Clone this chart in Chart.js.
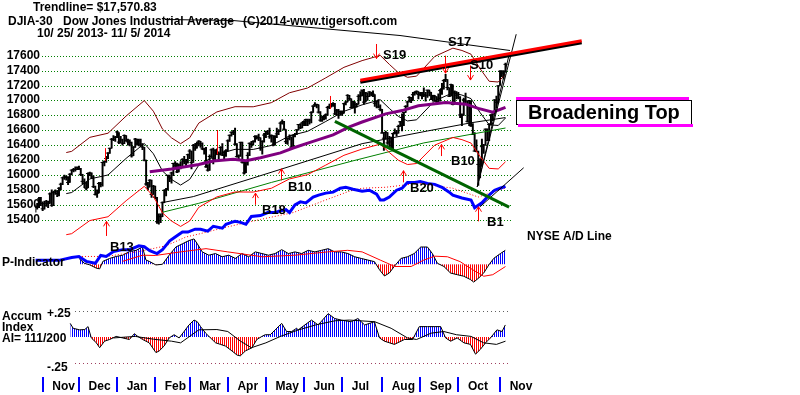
<!DOCTYPE html>
<html>
<head>
<meta charset="utf-8">
<script src="https://cdn.jsdelivr.net/npm/chart.js@4.4.0/dist/chart.umd.min.js"></script>
<style>
  html, body { margin: 0; padding: 0; background: #fff; }
  #djia { display: block; }
</style>
</head>
<body>
<canvas id="djia" width="800" height="395" style="width:800px;height:395px"></canvas>
<script>
const priceTicks = [17600, 17400, 17200, 17000, 16800, 16600, 16400, 16200, 16000, 15800, 15600, 15400];
const monthNames = ["Nov", "Dec", "Jan", "Feb", "Mar", "Apr", "May", "Jun", "Jul", "Aug", "Sep", "Oct", "Nov"];
const monthStarts = [5, 25, 46, 67, 86, 107, 128, 149, 170, 192, 213, 234, 257];

// daily DJIA bars, 10/25/2013 .. 11/5/2014 (trading day index = position)
const closes = [
  15570, 15569, 15680, 15618, 15546, 15615, 15639, 15619, 15746, 15594,
  15762, 15783, 15751, 15822, 15876, 15962, 15976, 15968, 15900, 16010,
  16065, 16073, 16073, 16098, 16086, 16008, 15915, 15889, 15822, 16020,
  16025, 15973, 15844, 15740, 15755, 15885, 15875, 16168, 16179, 16221,
  16294, 16358, 16479, 16478, 16505, 16577, 16441, 16470, 16425, 16530,
  16462, 16444, 16437, 16257, 16374, 16481, 16418, 16459, 16414, 16373,
  16198, 15879, 15838, 15929, 15739, 15849, 15699, 15373, 15445, 15440,
  15628, 15794, 15801, 15994, 15964, 16027, 16154, 16130, 16041, 16133,
  16103, 16207, 16179, 16198, 16272, 16321, 16168, 16395, 16361, 16422,
  16453, 16418, 16351, 16340, 16109, 16065, 16248, 16337, 16223, 16331,
  16303, 16277, 16368, 16268, 16264, 16324, 16458, 16532, 16573, 16572,
  16413, 16246, 16256, 16437, 16171, 16027, 16174, 16263, 16425, 16409,
  16449, 16514, 16502, 16501, 16361, 16448, 16535, 16581, 16559, 16513,
  16531, 16402, 16518, 16551, 16583, 16695, 16715, 16614, 16447, 16491,
  16511, 16374, 16533, 16543, 16606, 16676, 16633, 16698, 16717, 16743,
  16722, 16738, 16836, 16924, 16943, 16945, 16843, 16735, 16776, 16781,
  16808, 16906, 16921, 16948, 16938, 16819, 16868, 16846, 16851, 16827,
  16956, 16976, 17068, 17024, 16906, 16985, 16915, 16944, 17055, 17061,
  17138, 16977, 17100, 17052, 17114, 17087, 17084, 16961, 16982, 16913,
  16881, 16563, 16493, 16569, 16430, 16443, 16369, 16554, 16570, 16561,
  16651, 16713, 16663, 16839, 16920, 16979, 17040, 17001, 17077, 17107,
  17122, 17080, 17098, 17068, 17079, 17069, 17138, 17111, 17014, 17068,
  17049, 16988, 17031, 17132, 17157, 17266, 17280, 17173, 17056, 17211,
  16946, 17113, 17071, 17043, 16805, 16801, 17009, 16992, 16720, 16995,
  16659, 16544, 16321, 16316, 16142, 16117, 16380, 16400, 16614, 16462,
  16677, 16805, 16818, 17006, 16975, 17195, 17391, 17366, 17384, 17484
];
const highs = [
  15600, 15620, 15700, 15700, 15640, 15650, 15660, 15650, 15760, 15800,
  15780, 15800, 15790, 15830, 15890, 15970, 16000, 15990, 15980, 16020,
  16070, 16090, 16110, 16110, 16120, 16090, 16010, 15950, 15900, 16030,
  16040, 16030, 15990, 15850, 15800, 15900, 15900, 16170, 16190, 16250,
  16300, 16360, 16490, 16530, 16520, 16590, 16570, 16520, 16480, 16540,
  16530, 16480, 16470, 16440, 16380, 16490, 16480, 16480, 16480, 16420,
  16370, 16200, 15900, 15940, 15930, 15860, 15850, 15700, 15480, 15480,
  15640, 15800, 15820, 16000, 16000, 16040, 16160, 16180, 16160, 16150,
  16180, 16220, 16250, 16210, 16280, 16340, 16320, 16410, 16420, 16440,
  16460, 16450, 16430, 16360, 16370, 16140, 16270, 16350, 16360, 16340,
  16350, 16310, 16380, 16420, 16320, 16340, 16470, 16540, 16580, 16600,
  16630, 16420, 16270, 16440, 16440, 16170, 16190, 16300, 16430, 16450,
  16460, 16530, 16530, 16550, 16500, 16460, 16560, 16590, 16600, 16630,
  16540, 16530, 16530, 16630, 16610, 16710, 16740, 16720, 16610, 16500,
  16540, 16510, 16540, 16560, 16610, 16680, 16690, 16710, 16730, 16750,
  16750, 16750, 16850, 16930, 16970, 16950, 16940, 16850, 16790, 16800,
  16820, 16920, 16950, 16960, 16970, 16960, 16880, 16880, 16860, 16860,
  16960, 16990, 17080, 17070, 17020, 16990, 16980, 16960, 17080, 17120,
  17140, 17150, 17110, 17100, 17120, 17110, 17130, 17080, 16990, 17010,
  16940, 16880, 16570, 16590, 16570, 16520, 16510, 16560, 16620, 16600,
  16670, 16720, 16820, 16840, 16930, 16990, 17050, 17040, 17110, 17120,
  17130, 17120, 17110, 17110, 17170, 17110, 17140, 17140, 17110, 17070,
  17070, 17050, 17090, 17150, 17230, 17280, 17350, 17280, 17170, 17220,
  17210, 17130, 17120, 17110, 17050, 16820, 17030, 17100, 16990, 17000,
  16990, 16690, 16570, 16470, 16320, 16220, 16480, 16410, 16620, 16620,
  16690, 16810, 16820, 17010, 17060, 17200, 17400, 17400, 17400, 17500
];
const lows = [
  15500, 15540, 15560, 15590, 15520, 15540, 15580, 15560, 15620, 15580,
  15590, 15740, 15710, 15720, 15800, 15870, 15940, 15930, 15870, 15900,
  16000, 16040, 16050, 16070, 16070, 15990, 15880, 15830, 15800, 15830,
  15990, 15950, 15830, 15730, 15700, 15760, 15840, 15850, 16120, 16170,
  16220, 16290, 16360, 16460, 16450, 16500, 16420, 16430, 16400, 16420,
  16450, 16400, 16390, 16240, 16260, 16370, 16400, 16390, 16380, 16340,
  16190, 15860, 15800, 15840, 15700, 15740, 15680, 15350, 15340, 15360,
  15440, 15630, 15720, 15800, 15910, 15890, 15990, 16090, 16030, 16040,
  16080, 16100, 16150, 16110, 16160, 16220, 16080, 16170, 16330, 16360,
  16390, 16370, 16340, 16280, 16100, 16050, 16060, 16240, 16150, 16200,
  16280, 16200, 16270, 16260, 16220, 16250, 16320, 16450, 16520, 16540,
  16400, 16240, 16200, 16250, 16160, 16010, 16030, 16130, 16260, 16370,
  16400, 16440, 16480, 16460, 16330, 16280, 16440, 16500, 16540, 16490,
  16440, 16390, 16400, 16500, 16540, 16580, 16680, 16600, 16420, 16410,
  16470, 16360, 16380, 16510, 16540, 16600, 16620, 16630, 16660, 16660,
  16660, 16680, 16700, 16840, 16920, 16900, 16830, 16720, 16720, 16740,
  16750, 16800, 16890, 16910, 16920, 16810, 16800, 16760, 16800, 16800,
  16830, 16940, 16980, 17000, 16900, 16900, 16830, 16910, 16950, 17000,
  17060, 16950, 16980, 17000, 17050, 17060, 17050, 16920, 16900, 16900,
  16860, 16560, 16330, 16480, 16410, 16370, 16340, 16340, 16550, 16520,
  16560, 16650, 16590, 16660, 16840, 16910, 16980, 16970, 17000, 17070,
  17090, 17020, 17060, 17020, 17050, 16990, 17040, 17060, 17010, 16990,
  16990, 16950, 16980, 16990, 17080, 17150, 17250, 17140, 17050, 17060,
  16940, 16950, 17020, 17020, 16770, 16660, 16800, 16950, 16710, 16660,
  16650, 16540, 16320, 16310, 15860, 15960, 16120, 16290, 16400, 16460,
  16460, 16670, 16730, 16820, 16900, 16970, 17200, 17320, 17290, 17380
];

// [day, value] pairs
const ma21 = [[17,15750],[20,15765],[30,15947],[40,16000],[50,16223],[60,16423],[65,16285],[70,16054],[75,15940],[80,15865],[85,15941],[90,16131],[100,16276],[110,16344],[120,16343],[130,16396],[140,16525],[150,16586],[160,16718],[170,16854],[180,16941],[190,17009],[195,16893],[200,16785],[205,16725],[210,16740],[220,16995],[230,17102],[235,17072],[240,17024],[245,16837],[250,16673],[255,16664],[259,16764]];
const upperBand = [[17,16301],[20,16317],[30,16505],[40,16560],[50,16791],[60,16998],[65,16855],[70,16616],[75,16498],[80,16420],[85,16499],[90,16696],[100,16846],[110,16916],[120,16915],[130,16970],[140,17103],[150,17167],[160,17303],[170,17444],[180,17534],[190,17604],[195,17484],[200,17372],[205,17310],[210,17326],[220,17590],[230,17701],[235,17670],[240,17620],[245,17426],[250,17257],[255,17247],[259,17351]];
const lowerBand = [[17,15199],[20,15213],[30,15389],[40,15440],[50,15655],[60,15848],[65,15715],[70,15492],[75,15382],[80,15310],[85,15383],[90,15566],[100,15706],[110,15772],[120,15771],[130,15822],[140,15947],[150,16005],[160,16133],[170,16264],[180,16348],[190,16414],[195,16302],[200,16198],[205,16140],[210,16154],[220,16400],[230,16503],[235,16474],[240,16428],[245,16248],[250,16089],[255,16081],[259,16177]];
const ma65 = [[63,16044],[75,16080],[90,16140],[98,16188],[109,16210],[116,16190],[124,16231],[135,16297],[142,16362],[153,16450],[164,16537],[173,16646],[180,16711],[193,16820],[202,16864],[211,16929],[226,16973],[237,16950],[244,16894],[252,16842],[259,16907]];
const ma200 = [[70,15630],[87,15710],[120,15960],[150,16190],[180,16420],[216,16590],[240,16700],[259,16770]];
const greenLine = [[70,15500],[90,15620],[130,15900],[175,16190],[214,16430],[259,16630]];
const resistance = [[179,17270],[301,17800]];
const support = [[165,16720],[261,15570]];
const fanSteep = [[243.4,15839],[264.9,17888]];
const fanLow = [[243.4,15839],[260.7,17583]];

const adLine = [[0,0],[6,0],[13,0],[20,300],[24,400],[28,-100],[33,-300],[36,500],[39,400],[43,900],[48,1100],[52,1100],[57,1500],[60,1400],[63,1000],[67,700],[70,1100],[74,2000],[77,2400],[81,2900],[84,2900],[88,3200],[91,3200],[95,3000],[98,3500],[103,3300],[105,3700],[108,3900],[110,4000],[113,3900],[116,3700],[119,4500],[124,4600],[128,4900],[132,4900],[135,5100],[138,5200],[140,4900],[143,5700],[146,6000],[149,5900],[153,6500],[156,6700],[160,6900],[164,7000],[168,7400],[171,7500],[175,7300],[180,7100],[184,7200],[188,6800],[190,6200],[192,6200],[195,6500],[199,7200],[202,7400],[205,8000],[209,8000],[212,8100],[216,7900],[220,7800],[224,7500],[228,7000],[230,6700],[235,6400],[240,6200],[242,5400],[246,5900],[250,6700],[253,7200],[256,7400],[259,7600]];
const adAvg = [[24,400],[39,400],[57,900],[72,1500],[83,2400],[90,2700],[105,3400],[124,4200],[142,4900],[160,6200],[173,7100],[180,7400],[193,7500],[211,7900],[230,7400],[244,6500],[255,7200],[259,7400]];
const adTrend = [[245,5500],[269,9500]];

const pInd = [[24,120],[27,20],[30,-13],[33.6,-80],[35.4,-94],[37.2,60],[40.9,120],[44.5,160],[48.1,186],[51.8,260],[55.5,286],[59,354],[60.9,86],[62.7,60],[66.4,-14],[70,0],[73.7,186],[77.4,354],[81,420],[84.6,486],[87.4,520],[89.2,420],[91.9,254],[95.6,186],[99.2,220],[102.9,154],[106.5,186],[110.2,120],[113.8,220],[117.5,154],[121.1,254],[124.8,220],[128.4,186],[132.1,220],[135.7,300],[139.4,220],[143,254],[146.7,220],[150.3,286],[154,254],[157.6,286],[161.3,320],[164.9,254],[168.5,254],[172.2,220],[175.9,154],[179.5,120],[183.2,86],[186.8,54],[189.6,-114],[192.3,-240],[195,-180],[197.8,-40],[201.4,120],[205,154],[208.7,220],[212.3,354],[216,354],[218.7,220],[221.5,20],[225.1,-46],[228.7,-180],[232.4,-214],[236,-246],[239.7,-314],[241.5,-366],[244.3,-280],[247,-180],[249.8,-14],[252.5,120],[256.2,220],[258.9,286]];
const pAvg = [[48,60],[59,186],[66,180],[80,254],[94,320],[106,254],[125,154],[143,186],[161,254],[172,286],[180,254],[190,86],[198,-46],[207,-46],[214,86],[220,166],[227,154],[234,54],[241,-114],[247,-246],[252,-214],[259,-46]];

const accum = [[19.2,0.131],[20.8,0.084],[24.4,0.069],[27.2,0.072],[29,0.1],[30.8,-0.009],[33.6,-0.056],[35.4,-0.103],[38.1,-0.04],[40.9,-0.024],[44.5,0.006],[48.1,-0.009],[51.8,-0.024],[54.5,0.032],[56.4,0.006],[59.1,-0.024],[62.7,-0.056],[66.4,-0.15],[68.2,-0.134],[70.9,-0.087],[73.7,-0.009],[76.4,0.022],[79.2,-0.009],[81.9,0.053],[84.6,0.116],[87.4,0.163],[89.2,0.147],[91,0.1],[93.8,0.037],[96.5,-0.009],[99.3,-0.056],[102,-0.071],[104.7,-0.087],[108.3,-0.134],[111.1,-0.174],[112.9,-0.181],[115.7,-0.134],[119.3,-0.103],[122,-0.024],[124.8,0.006],[126.6,0.022],[129.4,0.022],[132.1,0.069],[135.7,0.131],[138.4,0.053],[141.2,0.053],[143.9,0.084],[144.8,0.069],[152.1,0.163],[155.8,0.116],[161.3,0.225],[164.9,0.178],[168.5,0.163],[174,0.147],[177.7,0.178],[181.4,0.116],[186.8,0.147],[189.6,-0.009],[192.3,-0.04],[197.8,-0.071],[203.3,-0.024],[207.8,-0.024],[211.5,0.1],[216,0.1],[219.7,0.1],[223.3,0.1],[226,-0.009],[228.8,-0.04],[232.4,-0.009],[236.1,-0.056],[239.7,-0.071],[242.5,-0.165],[245.2,-0.118],[248,-0.056],[250.7,-0.009],[254.3,0.069],[257.1,0.053],[258.9,0.116]];
const accumAvg = [[43,-0.009],[55,0.006],[65,-0.021],[75,-0.04],[80,-0.056],[90,0.069],[100,0.072],[106,0.053],[113,-0.04],[119,-0.103],[127,-0.056],[135,0.006],[145,0.069],[155,0.119],[165,0.156],[173,0.163],[187,0.147],[196,0.084],[205,-0.009],[210,-0.024],[218,0.037],[225,0.053],[232,0.022],[240,0.006],[247,-0.056],[254,-0.071],[259,-0.04]];

// signals: name, day, arrow tip price, arrow tail price
const buySignals = [["B13",38.7,15378,15182],["B18",121,15757,15600],["B10",135.5,16084,15927],["B20",202.7,16058,15901],["B10",223.7,16410,16254],["B1",244,15574,15378]];
const sellSignals = [["S19",187.6,17561,17757],["S17",225.4,17365,17600],["S10",239.7,17273,17470]];
const redBars = [[38.5,16190,16360],[99.8,16276,16603],[162.4,16885,17060]];

const pts = arr => arr.map(([x, y]) => ({x, y}));
const canvas = document.getElementById("djia");
const ctx = canvas.getContext("2d");

function stripes(color) {
    let c = document.createElement("canvas");
    c.width = 2;
    c.height = 1;
    let g = c.getContext("2d");
    g.fillStyle = color;
    g.fillRect(0, 0, 1, 1);
    return ctx.createPattern(c, "repeat");
}
const bluePat = stripes("#0000ff");
const redPat = stripes("#ff0000");

const FONT = '"Liberation Sans", Arial, sans-serif';

const backdrop = {
    id: "backdrop",
    beforeDatasetsDraw(chart) {
        const c = chart.ctx;
        const yp = chart.scales.yPrice;
        const ai = chart.scales.yAI;
        c.save();
        c.lineWidth = 1;
        c.setLineDash([1, 2]);
        c.strokeStyle = "#008000";
        priceTicks.forEach(v => {
            let py = Math.round(yp.getPixelForValue(v)) + 0.5;
            c.beginPath();
            c.moveTo(42, py);
            c.lineTo(512, py);
            c.stroke();
        });
        c.setLineDash([1, 3]);
        [[0.25, "#606060"], [-0.25, "#a04060"]].forEach(([v, col]) => {
            let py = Math.round(ai.getPixelForValue(v)) + 0.5;
            c.strokeStyle = col;
            c.beginPath();
            c.moveTo(75, py);
            c.lineTo(510, py);
            c.stroke();
        });
        c.restore();
    },
    beforeDatasetDraw(chart, args) {
        if (chart.data.datasets[args.index].label === "resistance") {
            chart.ctx.save();
            chart.ctx.shadowColor = "#000";
            chart.ctx.shadowOffsetY = 2;
            chart.ctx.shadowBlur = 0;
        }
    },
    afterDatasetDraw(chart, args) {
        if (chart.data.datasets[args.index].label === "resistance") {
            chart.ctx.restore();
        }
    }
};

function text(c, s, x, y, size, align) {
    c.font = "bold " + size + "px " + FONT;
    c.textAlign = align || "left";
    c.fillText(s, x, y);
}

const notes = {
    id: "notes",
    afterDraw(chart) {
        const c = chart.ctx;
        const xs = chart.scales.x;
        const yp = chart.scales.yPrice;
        c.save();
        c.fillStyle = "#000";
        c.textBaseline = "middle";

        // header
        text(c, "Trendline= $17,570.83", 33, 8, 12);
        text(c, "DJIA-30", 8, 21.5, 12);
        text(c, "Dow Jones Industrial Average", 63, 21.5, 12);
        text(c, "(C)2014-www.tigersoft.com", 243, 21.5, 12);
        text(c, "10/ 25/ 2013- 11/ 5/ 2014", 37, 34, 12);

        c.strokeStyle = "#000";
        c.lineWidth = 1;
        c.beginPath();
        c.moveTo(165, 19.5);
        c.lineTo(233, 20.5);
        c.lineTo(400, 35.5);
        c.lineTo(510, 50.5);
        c.stroke();

        // price labels
        priceTicks.forEach(v => text(c, String(v), 40, Math.round(yp.getPixelForValue(v)), 12, "right"));

        // months
        c.fillStyle = "#0000ff";
        monthStarts.forEach(d => {
            let px = Math.round(xs.getPixelForValue(d - 1.5));
            c.fillRect(px, 377, 2, 15);
        });
        c.fillStyle = "#000";
        monthStarts.forEach((d, k) => {
            let px = xs.getPixelForValue(d - 1.5) + 10.5;
            text(c, monthNames[k], px, 387, 12);
        });

        // signal arrows
        c.strokeStyle = "#ff0000";
        redBars.forEach(([d, lo, hi]) => {
            let px = Math.round(xs.getPixelForValue(d)) + 0.5;
            c.beginPath();
            c.moveTo(px, yp.getPixelForValue(lo));
            c.lineTo(px, yp.getPixelForValue(hi));
            c.stroke();
        });
        const arrow = (d, tip, tail) => {
            let px = Math.round(xs.getPixelForValue(d)) + 0.5;
            let ty = yp.getPixelForValue(tip);
            let by = yp.getPixelForValue(tail);
            let dir = by > ty ? 1 : -1;
            c.beginPath();
            c.moveTo(px, by);
            c.lineTo(px, ty);
            c.moveTo(px - 3, ty + dir * 5);
            c.lineTo(px, ty);
            c.lineTo(px + 3, ty + dir * 5);
            c.stroke();
        };
        buySignals.forEach(s => arrow(s[1], s[2], s[3]));
        sellSignals.forEach(s => arrow(s[1], s[2], s[3]));

        c.fillStyle = "#000";
        const signalSpots = [[110, 247], [262, 210], [288, 187], [410, 188], [451, 161], [487, 222]];
        buySignals.forEach((s, k) => text(c, s[0], signalSpots[k][0], signalSpots[k][1], 13));
        const sellSpots = [[383, 55], [448, 42], [470, 65]];
        sellSignals.forEach((s, k) => text(c, s[0], sellSpots[k][0], sellSpots[k][1], 13));

        // panel captions
        text(c, "NYSE A/D Line", 527, 237, 12);
        text(c, "P-Indicator", 2, 263, 12);
        text(c, "Accum", 2, 317, 12);
        text(c, "Index", 2, 328, 12);
        text(c, "AI= 111/200", 2, 339, 12);
        text(c, "+.25", 47, 314, 12);
        text(c, "-.25", 47, 368, 12);

        // pattern box
        c.fillStyle = "#fff";
        c.fillRect(516, 100, 176, 25);
        c.strokeStyle = "#000";
        c.strokeRect(516.5, 100.5, 175, 24);
        c.fillStyle = "#ff00ff";
        c.fillRect(516, 97, 173, 3);
        c.fillRect(518, 124, 175, 3);
        c.fillStyle = "#000";
        text(c, "Broadening Top", 528, 113, 20);
        c.restore();
    }
};

const line = (label, data, axis, color, width, order, extra) => Object.assign({
    type: "line",
    label: label,
    data: pts(data),
    yAxisID: axis,
    borderColor: color,
    borderWidth: width,
    pointRadius: 0,
    fill: false,
    order: order
}, extra || {});

let djiaChart = new Chart(canvas, {
    type: "line",
    data: {
        datasets: [
            line("resistance", resistance, "yPrice", "#ff0000", 3, 0),
            line("support", support, "yPrice", "#006400", 3, 1),
            line("fanSteep", fanSteep, "yPrice", "#000", 1, 1),
            line("fanLow", fanLow, "yPrice", "#000", 1, 1),
            line("adTrend", adTrend, "yAD", "#000", 1, 1),
            line("adLine", adLine, "yAD", "#0000ff", 3, 2),
            line("adAvg", adAvg, "yAD", "#ff0000", 1, 3, { borderDash: [1, 2] }),
            line("ma65", ma65, "yPrice", "#800080", 3, 3),
            line("ma21", ma21, "yPrice", "#000", 1, 4),
            line("upperBand", upperBand, "yPrice", "#800000", 1, 4),
            line("lowerBand", lowerBand, "yPrice", "#ff0000", 1, 4),
            line("ma200", ma200, "yPrice", "#000", 1, 4),
            line("greenLine", greenLine, "yPrice", "#008000", 1, 4),
            line("pAvg", pAvg, "yP", "#ff0000", 1, 2),
            line("pInd", pInd, "yP", "#000", 1, 3, { fill: { target: { value: 0 }, above: bluePat, below: redPat } }),
            line("accumAvg", accumAvg, "yAI", "#000", 1, 2),
            line("accum", accum, "yAI", "#000", 1, 3, { fill: { target: { value: 0 }, above: bluePat, below: redPat } }),
            {
                type: "line",
                label: "close",
                data: closes.map((v, i) => ({x: i, y: v})),
                yAxisID: "yPrice",
                showLine: false,
                pointStyle: "line",
                pointRadius: 2,
                borderColor: "#000",
                borderWidth: 1,
                order: 5
            },
            {
                type: "bar",
                label: "range",
                data: lows.map((v, i) => ({x: i, y: [v, highs[i]]})),
                yAxisID: "yPrice",
                backgroundColor: "#000",
                barThickness: 1.3,
                grouped: false,
                order: 6
            }
        ]
    },
    options: {
        responsive: false,
        animation: false,
        devicePixelRatio: 1,
        layout: { padding: { left: 35.4, right: 0, top: 0, bottom: 0 } },
        plugins: { legend: { display: false }, tooltip: { enabled: false } },
        elements: { line: { tension: 0 } },
        scales: {
            x: { type: "linear", min: 0, max: 418.5, display: false, offset: false },
            yPrice: { type: "linear", min: 13116, max: 18280, display: false },
            yAD: { type: "linear", min: -13300, max: 26200, display: false },
            yP: { type: "linear", min: -2580, max: 5320, display: false },
            yAI: { type: "linear", min: -0.5097, max: 3.194, display: false }
        }
    },
    plugins: [backdrop, notes]
});
</script>
</body>
</html>
